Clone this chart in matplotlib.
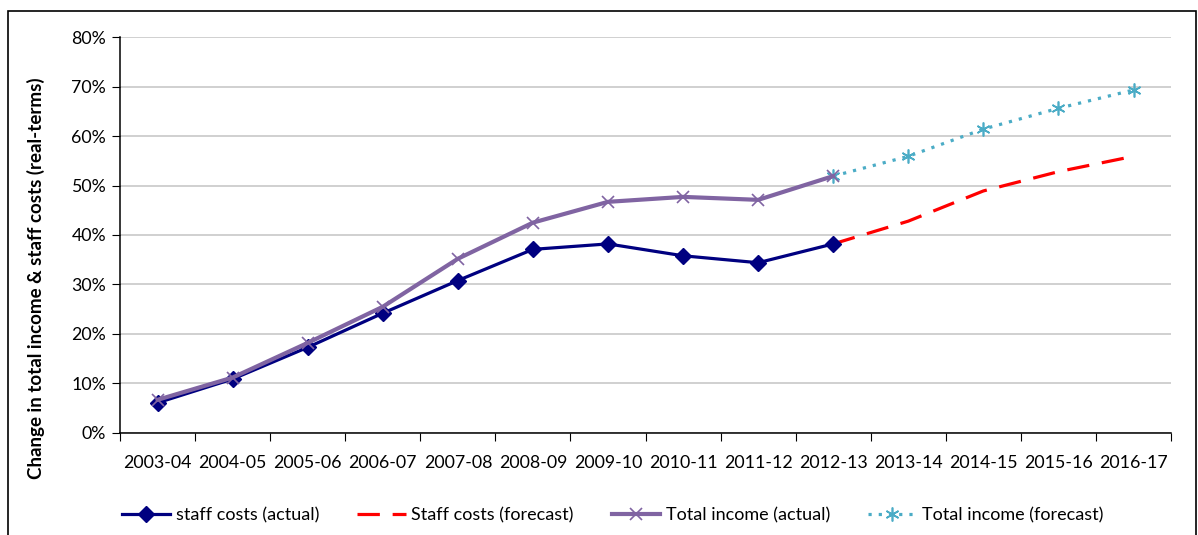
import numpy as np
import matplotlib.pyplot as plt
from matplotlib.patches import Rectangle
from matplotlib.ticker import FuncFormatter

plt.rcParams['font.family'] = ['Lato', 'DejaVu Sans']

years = ['2003-04', '2004-05', '2005-06', '2006-07', '2007-08', '2008-09', '2009-10',
         '2010-11', '2011-12', '2012-13', '2013-14', '2014-15', '2015-16', '2016-17']

# values in percent
staff_actual = [6.1, 10.9, 17.3, 24.2, 30.8, 37.1, 38.2, 35.8, 34.4, 38.2]
staff_forecast = [38.2, 42.8, 48.9, 52.8, 55.9]
income_actual = [6.7, 11.2, 18.2, 25.5, 35.2, 42.5, 46.7, 47.7, 47.1, 51.9]
income_forecast = [51.9, 55.9, 61.4, 65.6, 69.3]

x = np.arange(len(years))
x_act = x[:len(staff_actual)]
x_fc = x[len(staff_actual) - 1:]

fig = plt.figure(figsize=(11.98, 5.35), dpi=100)
ax = fig.add_axes([0.1002, 0.1907, 0.8773, 0.7401])

ax.plot(x_act, staff_actual, color='#000080', lw=2.3, marker='D', ms=8,
        label='staff costs (actual)', zorder=4)
ax.plot(x_fc, staff_forecast, color='#FF0000', lw=2.3, dashes=(7, 4),
        label='Staff costs (forecast)', zorder=3)
ax.plot(x_act, income_actual, color='#8064A2', lw=3, marker='x', ms=9, mew=1.2,
        label='Total income (actual)', zorder=5)
ax.plot(x_fc, income_forecast, color='#4BACC6', lw=2.3, ls=(0, (1, 2.2)),
        marker=(6, 2, 0), ms=10, mew=1.2, label='Total income (forecast)', zorder=3)

ax.set_xlim(-0.5, len(years) - 0.5)
ax.set_ylim(0, 80)
ax.set_yticks(np.arange(0, 81, 10))
ax.yaxis.set_major_formatter(FuncFormatter(lambda v, p: '%d%%' % v))
ax.grid(axis='y', color='#C4C4C4', lw=1.1)
ax.set_axisbelow(True)

ax.set_xticks(np.arange(-0.5, len(years), 1.0))
ax.set_xticklabels([])
ax.set_xticks(x, minor=True)
ax.set_xticklabels(years, minor=True)
ax.tick_params(axis='x', which='major', length=6, color='black')
ax.tick_params(axis='x', which='minor', length=0, pad=16, labelsize=12.8)
ax.tick_params(axis='y', length=6, pad=4, labelsize=12.8)

for s in ['top', 'right']:
    ax.spines[s].set_visible(False)
for s in ['left', 'bottom']:
    ax.spines[s].set_color('black')
    ax.spines[s].set_linewidth(1.1)

ax.set_ylabel('Change in total income & staff costs (real-terms)', fontsize=13.5,
              fontweight='bold')
ax.yaxis.set_label_coords(-0.071, 0.39)

fig.legend(loc='center left', bbox_to_anchor=(0.088, 0.036), ncol=4, frameon=False,
           fontsize=13, handlelength=2.7, columnspacing=2.1, handletextpad=0.3)

fig.patches.append(Rectangle((0.0067, -0.05), 0.9917, 1.0294, transform=fig.transFigure,
                             fill=False, edgecolor='black', lw=1.2, clip_on=False))

fig.savefig('out.png', dpi=100)
